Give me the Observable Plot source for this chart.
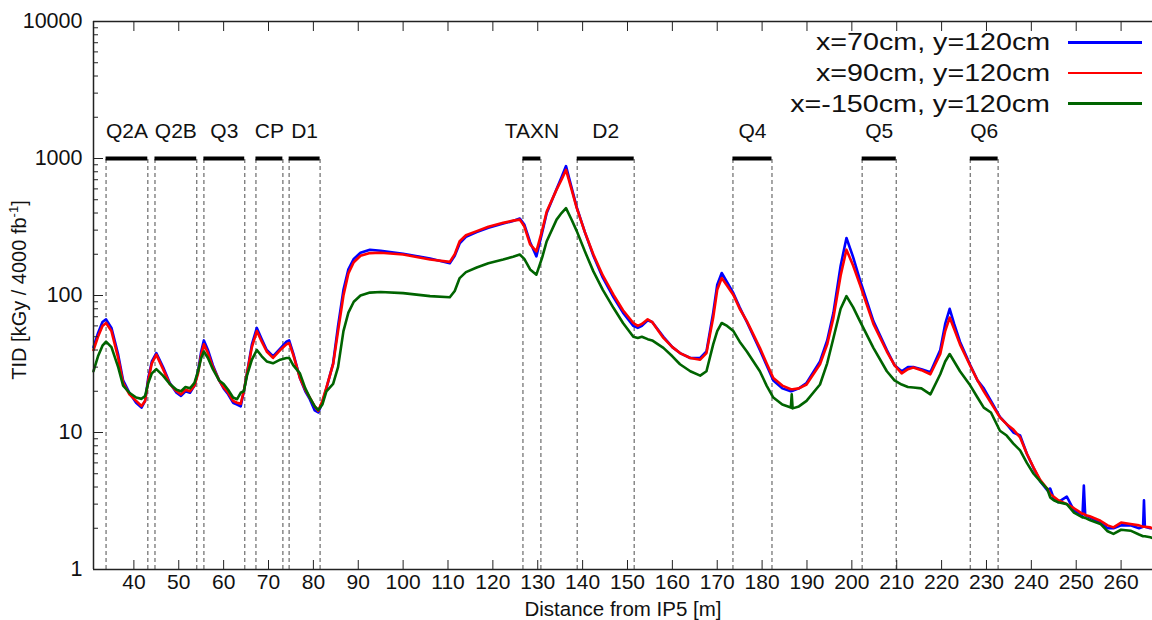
<!DOCTYPE html>
<html><head><meta charset="utf-8">
<script src="https://cdn.jsdelivr.net/npm/d3@7"></script>
<script src="https://cdn.jsdelivr.net/npm/@observablehq/plot@0.6"></script>
<style>
body{margin:0;background:#fff;font-family:"Liberation Sans",Arial,sans-serif;}
#wrap{position:relative;width:1152px;height:620px;overflow:hidden;}
#legend{position:absolute;top:27px;right:10px;font-size:24.5px;color:#111;}
#legend .row{display:flex;align-items:center;justify-content:flex-end;height:30.7px;}
#legend .lab{display:inline-block;transform:scaleX(1.17);transform-origin:right center;white-space:nowrap;}
#legend .sw{width:74px;height:2.6px;margin-left:18px;}
</style></head><body><div id="wrap"></div>
<script>
const distance = [31,32,33,33.8,35,36.5,37.6,39,40.5,41.7,42.5,43.2,44,45,46.5,48,49.5,50.5,51.5,52.5,53.5,54.3,55,55.6,56.5,57.6,59,60,61,62.1,63,63.8,64.5,65.2,66.3,67.4,68.5,69.6,71,72.6,74,74.6,75.5,77,78.2,79.2,80.3,81.1,82,82.9,84.4,85.5,86.7,87.8,89,90.5,92.6,95,100,106,110.4,111.5,112.6,114,116.4,119,122.3,124.5,126,127,128.3,129.7,131,132,134.2,135.3,136.3,137.5,138.7,140.5,142.4,144.5,146.9,149,151.3,152.3,153.2,154.5,155.5,158,160,161.7,164,166.2,167.6,169.1,170,171,172.2,173.6,175,176.6,179.5,181,182.5,184.5,186.4,186.6,186.8,188.2,189.9,192.9,194.5,195.9,197.5,198.8,200.3,201.8,204.8,207.8,209.5,211.1,212.5,213.7,215.5,217.5,219.7,220.8,221.8,222.8,224.1,226.4,228,229.4,231,233,234.5,236,237.5,239,240.5,242,243.5,244.2,245,246,247.9,249.5,251.4,251.7,252,253,255.4,257,258.3,260,262.1,264,264.9,265.1,265.3,266.5,267];
const tidBlue = [42,53,64,67,58,37,24,19.5,16.5,15.2,17,25,33,38,30,23,19.5,18.5,20,19.5,22,28,39,47,40,31,24,21,19,16.5,16,15.5,20,27,44,58,48,40,36,41,46,47,38,25,20,17.5,14.5,14,16.5,21,32,60,110,155,185,205,216,212,202,186,172,195,240,268,290,312,335,350,365,330,245,193,290,400,600,730,880,620,440,290,195,135,97,75,60,58,60,66,64,50,42,38,35,35,39,75,120,146,125,104,82,64,40,31,24,21,20,20,20.2,21,23,33,47,75,165,263,190,130,65,40,31,28,30,30,29,27.5,40,62,80,62,46,31,24,21,17,13,11.5,10,9.5,7,5.5,4.4,3.8,3.9,3.3,3.1,3.4,2.7,2.5,4.1,2.5,2.4,2.2,2.0,2.0,2.1,2.1,2.0,2.05,3.2,2.05,2.0,2.0];
const tidRed = [40,50,60,63,55,35,23,19,17,15.6,17,24,32,37,29,22.6,20,19,20.5,20,22,27,37,44,38,30,24,21.3,19.5,17,16.5,16.2,20,27,42,55,46,39,35,40,44,45,37,25,20.5,18,15.5,14.4,17,21.3,31.5,55,100,145,175,195,204,205,199,183,176,200,249,275,295,318,339,352,358,320,236,210,300,410,593,700,826,600,434,290,199,140,101,78,63,60,62,67,64,49,42,38,35,34,38,69,110,134,118,101,80,65,41.5,32,25,22,20.7,20.7,20.7,21,22.4,31.5,44,69,140,216,165,120,62,39,31,27,29,29.8,28.5,26.6,37.4,55,69,57,44,30.6,24,20,16.5,12.9,11.5,10.5,9.2,7,5.55,4.5,3.9,3.56,3.4,3.2,3.0,2.8,2.55,2.55,2.5,2.45,2.27,2.1,2.03,2.2,2.15,2.1,2.05,2.05,2.05,2.03,2.0];
const tidGreen = [28,36,43,46,42,30,22,19.5,18,17.6,18.5,23,27,29,26,22.6,20.5,20,21.5,21,23,28,35,39,35,29,24,22.6,20.5,18,17.5,19.5,20,26,34,40,36,33,32,34,35,35,31,27,21,18,15.5,14.6,16,20,22.6,30,55,75,90,100,105,106,104,99,97,108,134,148,160,172,183,192,199,185,155,142,190,249,358,400,434,360,295,210,150,110,81,63,50,49,50,48,47,41.5,36,31.5,28,26,28,44,55,63,60,55,46,39,28,22,18,16,15.2,19,15,15.5,17,22.4,32,49,80,99,82,65,41.5,28,24,22.4,21.5,21.3,21,19,26.6,33,37.4,33,28,22,18,15.2,14,10.3,9.5,8.3,7.4,6,5.0,4.4,3.9,3.36,3.2,3.1,3.0,2.6,2.4,2.4,2.38,2.3,2.15,1.9,1.82,1.95,1.92,1.8,1.75,1.75,1.75,1.72,1.7];
const seriesNames = ["x=70cm, y=120cm", "x=90cm, y=120cm", "x=-150cm, y=120cm"];
const seriesColors = ["#0000ff", "#ff0000", "#006400"];
const magnetNames = ["Q2A","Q2B","Q3","CP","D1","TAXN","D2","Q4","Q5","Q6"];
const magnetStart = [33.8,44.7,55.6,67.2,74.6,126.7,138.8,173.5,202.3,226.4];
const magnetEnd   = [43.1,54.0,64.7,73.2,81.5,130.7,151.5,182.2,209.9,232.6];
const xTicks = [40,50,60,70,80,90,100,110,120,130,140,150,160,170,180,190,200,210,220,230,240,250,260];
const yMajor = [1,10,100,1000,10000];
const yMinor = [2,3,4,5,6,7,8,9,20,30,40,50,60,70,80,90,200,300,400,500,600,700,800,900,2000,3000,4000,5000,6000,7000,8000,9000];
const xDomain = [31, 267];
const magnetLevel = 1000;

const seriesValues = [tidBlue, tidRed, tidGreen];
const rows = seriesValues.flatMap((vals, s) => distance.map((d, i) => ({d, v: vals[i], s: seriesNames[s]})));
const magnets = magnetNames.map((name, i) => ({name, start: magnetStart[i], end: magnetEnd[i]}));
const bounds = magnets.flatMap(m => [m.start, m.end]);

const font = '"Liberation Sans", Arial, sans-serif';
const blank = () => "";
const plot = Plot.plot({
  width: 1152, height: 620,
  marginLeft: 93, marginRight: 0, marginTop: 21, marginBottom: 51,
  style: {fontFamily: font, fontSize: "21px", color: "#111", background: "#fff"},
  x: {domain: xDomain},
  y: {type: "log", domain: [1, 10000]},
  marks: [
    Plot.ruleX(bounds, {x: d => d, y1: 1, y2: magnetLevel, stroke: "#808080", strokeWidth: 1.4, strokeDasharray: "4,3"}),
    Plot.ruleY(magnets, {y: () => magnetLevel, x1: "start", x2: "end", stroke: "#000", strokeWidth: 4}),
    Plot.text(magnets, {x: d => (d.start + d.end) / 2, y: () => magnetLevel, text: "name", dy: -27, fontSize: 21, fill: "#111"}),
    ...seriesNames.map((name, s) =>
      Plot.line(rows.filter(r => r.s === name), {x: "d", y: "v", stroke: seriesColors[s], strokeWidth: 2.6, strokeLinejoin: "round"})
    ),
    Plot.ruleY([1, 10000], {stroke: "#222", strokeWidth: 1.5}),
    Plot.ruleX([xDomain[0]], {stroke: "#222", strokeWidth: 1.5}),
    Plot.axisX({ticks: xTicks, tickSize: 0, tickPadding: 5, label: null, fontSize: 21}),
    Plot.axisX({ticks: xTicks, tickSize: -9, tickFormat: blank, label: null, stroke: "#222"}),
    Plot.axisX({ticks: xTicks, anchor: "top", tickSize: -9, tickFormat: blank, label: null, stroke: "#222"}),
    Plot.axisY({ticks: yMajor, tickSize: 0, tickPadding: 11, tickFormat: d => String(d), label: null, fontSize: 21.5}),
    Plot.axisY({ticks: yMajor, tickSize: -10, tickFormat: blank, label: null, stroke: "#222"}),
    Plot.axisY({ticks: yMinor, tickSize: -5, tickFormat: blank, label: null, stroke: "#222"}),
    Plot.text(["Distance from IP5 [m]"], {frameAnchor: "bottom", text: d => d, dy: 40, lineAnchor: "middle", fontSize: 20.5, fill: "#111"})
  ]
});
document.getElementById("wrap").appendChild(plot);

// y-axis label with superscript
const svg = d3.select(plot);
const yl = svg.append("text")
  .attr("transform", "translate(26,290) rotate(-90)")
  .attr("text-anchor", "middle")
  .attr("font-size", 20).attr("font-family", font).attr("fill", "#111");
yl.append("tspan").text("TID [kGy / 4000 fb");
yl.append("tspan").attr("font-size", 13).attr("dy", -8).text("-1");
yl.append("tspan").attr("dy", 8).text("]");

// legend
const leg = d3.select("#wrap").append("div").attr("id", "legend");
seriesNames.forEach((n, i) => {
  const r = leg.append("div").attr("class", "row");
  r.append("span").attr("class", "lab").text(n);
  r.append("span").attr("class", "sw").style("background", seriesColors[i]);
});
</script></body></html>
